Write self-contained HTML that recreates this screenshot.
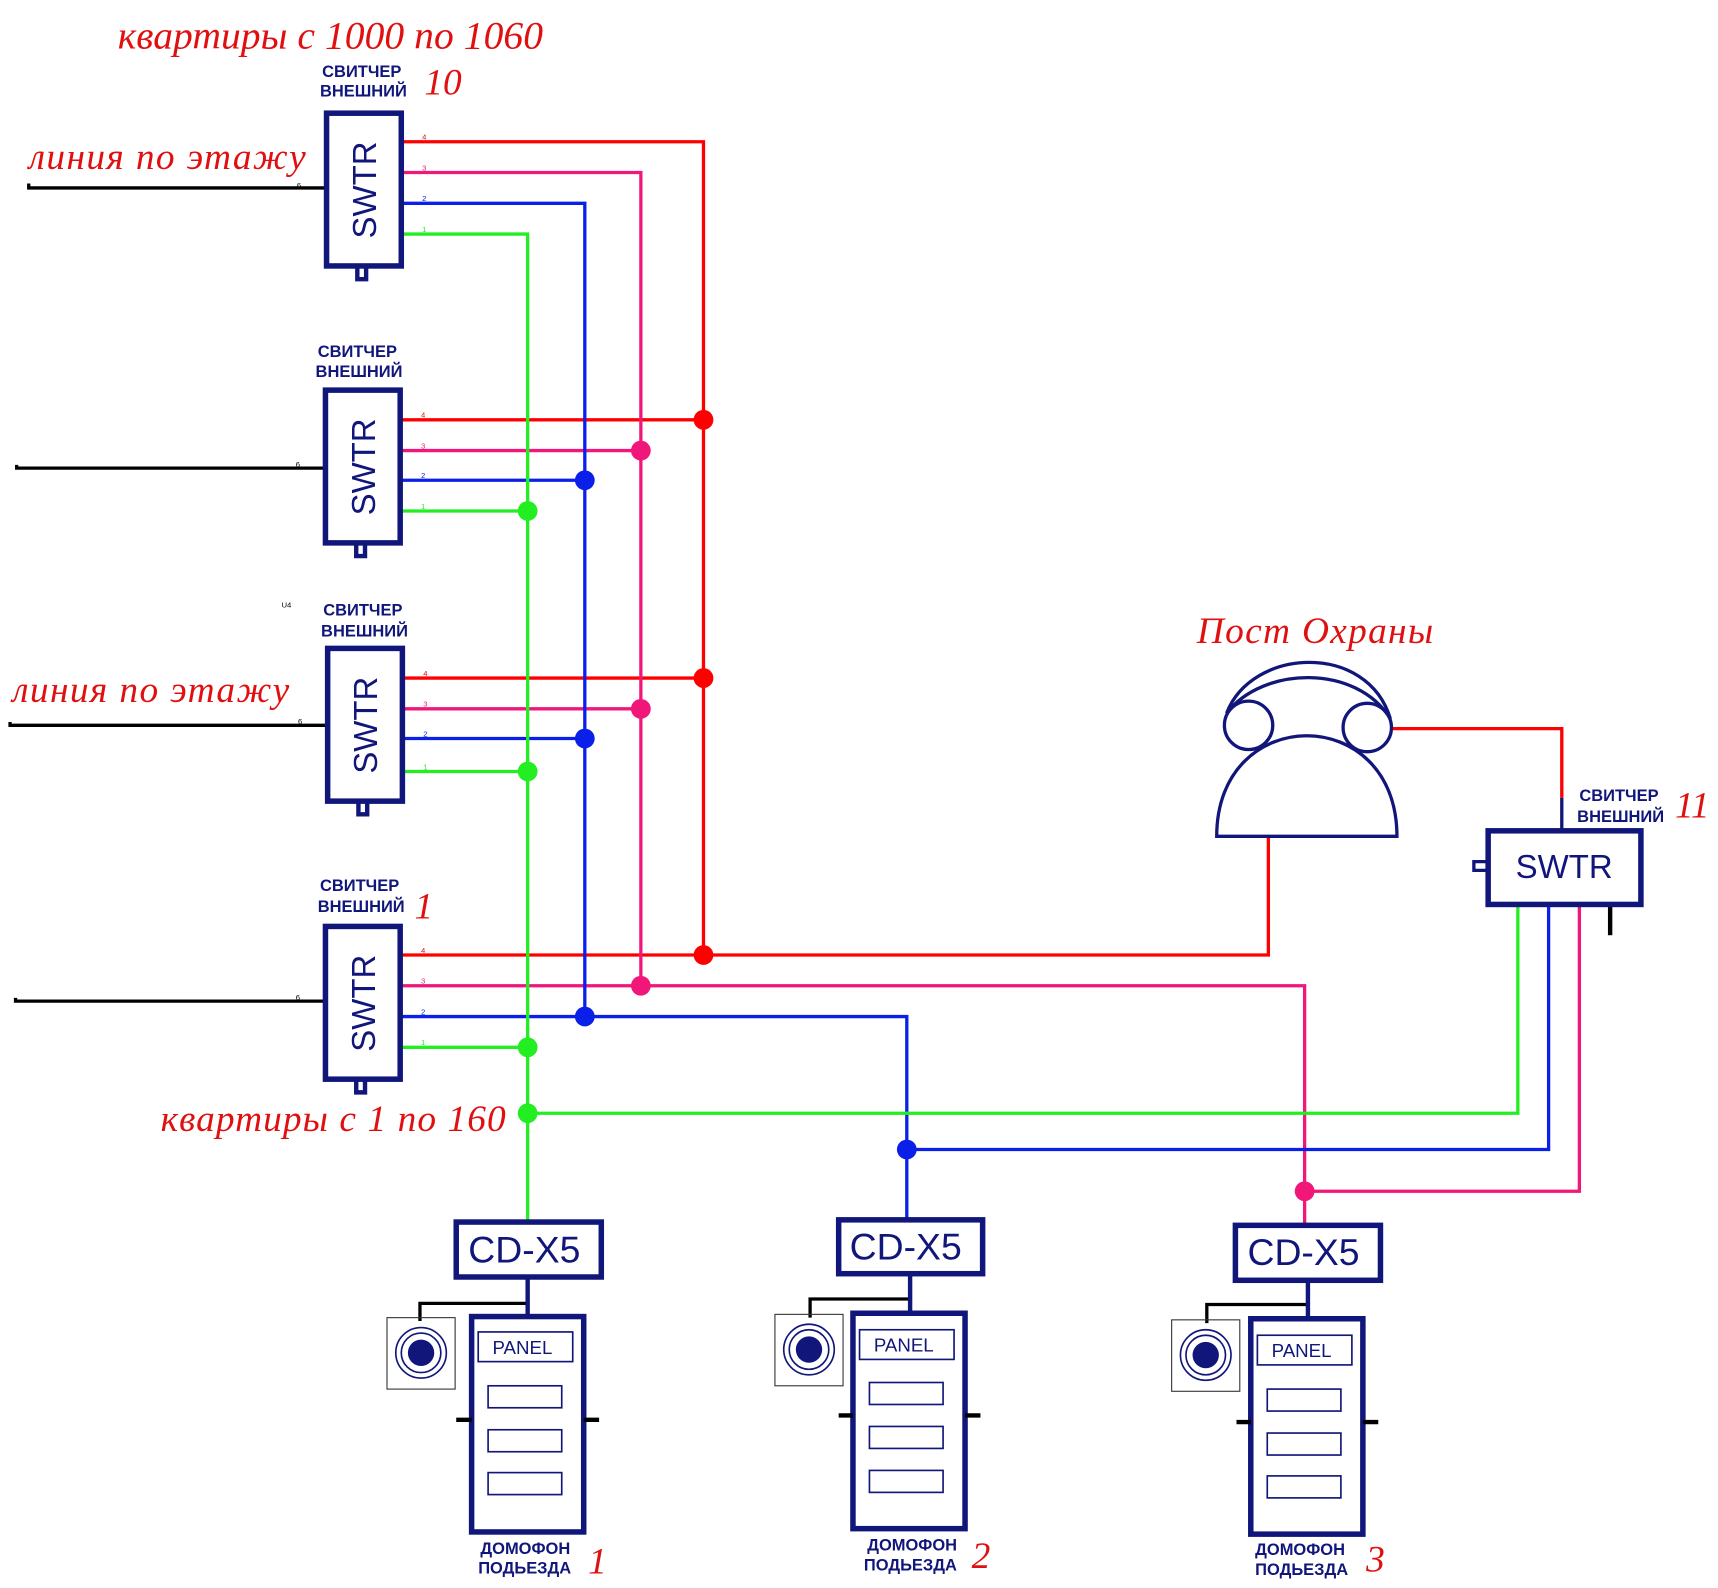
<!DOCTYPE html>
<html><head><meta charset="utf-8"><style>
html,body{margin:0;padding:0;background:#fff}
svg{display:block}
.r{font-family:"Liberation Serif",serif;font-style:italic;fill:#e01010}
.n{font-family:"Liberation Sans",sans-serif;fill:#10167a}
.s{font-family:"Liberation Sans",sans-serif;font-size:7px}
</style></head><body>
<svg width="1718" height="1588" viewBox="1 1 1563 1445" xmlns="http://www.w3.org/2000/svg">
<rect x="-10" y="-10" width="1600" height="1480" fill="#fff"/>
<text class="r" x="108" y="45" font-size="36" textLength="387">квартиры с 1000 по 1060</text>
<text class="r" x="387" y="87" font-size="34">10</text>
<text class="r" x="27" y="155" font-size="34" textLength="252">линия по этажу</text>
<text class="r" x="12" y="640" font-size="34" textLength="252">линия по этажу</text>
<text class="r" x="378" y="837" font-size="34">1</text>
<text class="r" x="147" y="1030" font-size="34" textLength="314">квартиры с 1 по 160</text>
<text class="r" x="1090" y="586" font-size="34" textLength="215">Пост Охраны</text>
<text class="r" x="1525" y="745" font-size="34">11</text>
<text class="r" x="536" y="1433" font-size="34">1</text>
<text class="r" x="885" y="1428" font-size="34">2</text>
<text class="r" x="1244" y="1431" font-size="34">3</text>

<g fill="none" stroke-width="3">
<g stroke="#ff0000">
<path d="M367 130H641V870"/><path d="M366 383H641M368 618H641M366 870H1155V762"/>
<path d="M1268 664H1422V727"/>
</g>
<g stroke="#f0167a">
<path d="M367 158H584V898"/><path d="M366 411H584M368 646H584M366 898H1188V1115"/>
<path d="M1188 1085H1438V825"/>
</g>
<g stroke="#0a20e8">
<path d="M367 186H533V926"/><path d="M366 438H533M368 673H533M366 926H826V1110"/>
<path d="M826 1047H1410V825"/>
</g>
<g stroke="#22ee22">
<path d="M367 214H481V1112"/><path d="M366 466H481M368 703H481M366 954H481"/>
<path d="M481 1014H1382V825"/>
</g>
<g stroke="#000">
<path d="M27 168V172H297"/><path d="M16 424V427H296"/><path d="M10 658V661H298"/><path d="M15 909V912H296"/>
<path d="M1466 825V852" stroke-width="4"/>
<path d="M481 1187H383V1203"/><path d="M829 1183H738V1200"/><path d="M1191 1188H1099V1205"/>
</g>
</g>
<g>
<circle cx="641" cy="383" r="9" fill="#ff0000"/><circle cx="641" cy="618" r="9" fill="#ff0000"/><circle cx="641" cy="870" r="9" fill="#ff0000"/>
<circle cx="584" cy="411" r="9" fill="#f0167a"/><circle cx="584" cy="646" r="9" fill="#f0167a"/><circle cx="584" cy="898" r="9" fill="#f0167a"/><circle cx="1188" cy="1085" r="9" fill="#f0167a"/>
<circle cx="533" cy="438" r="9" fill="#0a20e8"/><circle cx="533" cy="673" r="9" fill="#0a20e8"/><circle cx="533" cy="926" r="9" fill="#0a20e8"/><circle cx="826" cy="1047" r="9" fill="#0a20e8"/>
<circle cx="481" cy="466" r="9" fill="#22ee22"/><circle cx="481" cy="703" r="9" fill="#22ee22"/><circle cx="481" cy="954" r="9" fill="#22ee22"/><circle cx="481" cy="1014" r="9" fill="#22ee22"/>
</g>

<g stroke="#10167a" fill="none" stroke-width="5">
<rect x="298" y="104" width="68" height="139"/>
<rect x="297" y="356" width="68" height="139"/>
<rect x="299" y="591" width="68" height="139"/>
<rect x="297" y="844" width="68" height="139"/>
<path d="M326 243V255H334V243M325 495V507H333V495M327 730V742H335V730M325 983V995H333V983" stroke-width="4"/>
</g>
<g class="n" font-size="30">
<text transform="translate(343 218) rotate(-90)">SWTR</text>
<text transform="translate(342 470) rotate(-90)">SWTR</text>
<text transform="translate(344 705) rotate(-90)">SWTR</text>
<text transform="translate(342 958) rotate(-90)">SWTR</text>
</g>
<g class="n" font-size="15" font-weight="bold">
<text x="294" y="71">СВИТЧЕР</text><text x="292" y="89">ВНЕШНИЙ</text>
<text x="290" y="326">СВИТЧЕР</text><text x="288" y="344">ВНЕШНИЙ</text>
<text x="295" y="561">СВИТЧЕР</text><text x="293" y="580">ВНЕШНИЙ</text>
<text x="292" y="812">СВИТЧЕР</text><text x="290" y="831">ВНЕШНИЙ</text>
<text x="1438" y="730">СВИТЧЕР</text><text x="1436" y="749">ВНЕШНИЙ</text>
<text x="1143" y="1416">ДОМОФОН</text><text x="1143" y="1434">ПОДЬЕЗДА</text>
<text x="438" y="1415">ДОМОФОН</text><text x="436" y="1433">ПОДЬЕЗДА</text>
<text x="790" y="1412">ДОМОФОН</text><text x="787" y="1430">ПОДЬЕЗДА</text>
</g>
<g class="s" fill="#000">
<text x="271" y="172">6</text><text x="270" y="426">6</text><text x="272" y="660">6</text><text x="270" y="911">6</text>
<text x="385" y="128" fill="#e01010">4</text><text x="385" y="156" fill="#f0167a">3</text><text x="385" y="184" fill="#0a20e8">2</text><text x="385" y="212" fill="#22ee22">1</text>
<text x="384" y="381" fill="#e01010">4</text><text x="384" y="409" fill="#f0167a">3</text><text x="384" y="436" fill="#0a20e8">2</text><text x="384" y="464" fill="#22ee22">1</text>
<text x="386" y="616" fill="#e01010">4</text><text x="386" y="644" fill="#f0167a">3</text><text x="386" y="671" fill="#0a20e8">2</text><text x="386" y="701" fill="#22ee22">1</text>
<text x="384" y="868" fill="#e01010">4</text><text x="384" y="896" fill="#f0167a">3</text><text x="384" y="924" fill="#0a20e8">2</text><text x="384" y="952" fill="#22ee22">1</text>
<text x="257" y="554">U4</text>
</g>

<g stroke="#10167a" stroke-width="3" fill="none">
<circle cx="1137" cy="661" r="22"/><circle cx="1245" cy="663" r="22"/>
<path d="M1117 650C1140 590 1245 585 1266 655"/>
<path d="M1117 650C1150 607 1235 605 1266 655"/>
<path d="M1108 762C1108 640 1272 640 1272 762Z"/>
</g>
<rect x="1355" y="757" width="139" height="67" fill="none" stroke="#10167a" stroke-width="5"/>
<text class="n" x="1380" y="800" font-size="30">SWTR</text>
<path d="M1422 727V757" stroke="#10167a" stroke-width="3"/>
<path d="M1354 785H1342V793H1354" stroke="#10167a" stroke-width="3" fill="none"/>

<g fill="none" stroke="#10167a" stroke-width="5">
<rect x="416" y="1113" width="132" height="50"/>
<rect x="764" y="1111" width="131" height="49"/>
<rect x="1125" y="1116" width="132" height="50"/>
<rect x="430" y="1199" width="102" height="196"/>
<rect x="777" y="1196" width="102" height="196"/>
<rect x="1139" y="1201" width="102" height="196"/>
<path d="M481 1163V1199M829 1160V1196M1191 1166V1201" stroke-width="4"/>
<path d="M416 1293H430M532 1293H546M764 1289H777M879 1289H893M1126 1295H1139M1241 1295H1255" stroke="#000" stroke-width="4"/>
</g>
<g class="n" font-size="34">
<text x="427" y="1150">CD-X5</text><text x="774" y="1147">CD-X5</text><text x="1136" y="1152">CD-X5</text>
</g>
<g fill="none" stroke="#10167a" stroke-width="1.5">
<rect x="436" y="1213" width="86" height="27"/><rect x="445" y="1262" width="67" height="20"/><rect x="445" y="1302" width="67" height="20"/><rect x="445" y="1341" width="67" height="20"/>
<rect x="783" y="1211" width="86" height="27"/><rect x="792" y="1259" width="67" height="20"/><rect x="792" y="1299" width="67" height="20"/><rect x="792" y="1339" width="67" height="20"/>
<rect x="1145" y="1216" width="86" height="27"/><rect x="1154" y="1265" width="67" height="20"/><rect x="1154" y="1305" width="67" height="20"/><rect x="1154" y="1344" width="67" height="20"/>
<rect x="353" y="1200" width="62" height="65" stroke="#333" stroke-width="1"/>
<rect x="706" y="1197" width="62" height="65" stroke="#333" stroke-width="1"/>
<rect x="1067" y="1202" width="62" height="65" stroke="#333" stroke-width="1"/>
<circle cx="384" cy="1232" r="18"/><circle cx="384" cy="1232" r="23"/>
<circle cx="737" cy="1229" r="18"/><circle cx="737" cy="1229" r="23"/>
<circle cx="1098" cy="1234" r="18"/><circle cx="1098" cy="1234" r="23"/>
</g>
<g fill="#10167a"><circle cx="384" cy="1232" r="12"/><circle cx="737" cy="1229" r="12"/><circle cx="1098" cy="1234" r="12"/></g>
<g class="n" font-size="17">
<text x="449" y="1233">PANEL</text><text x="796" y="1231">PANEL</text><text x="1158" y="1236">PANEL</text>
</g>
</svg>
</body></html>
